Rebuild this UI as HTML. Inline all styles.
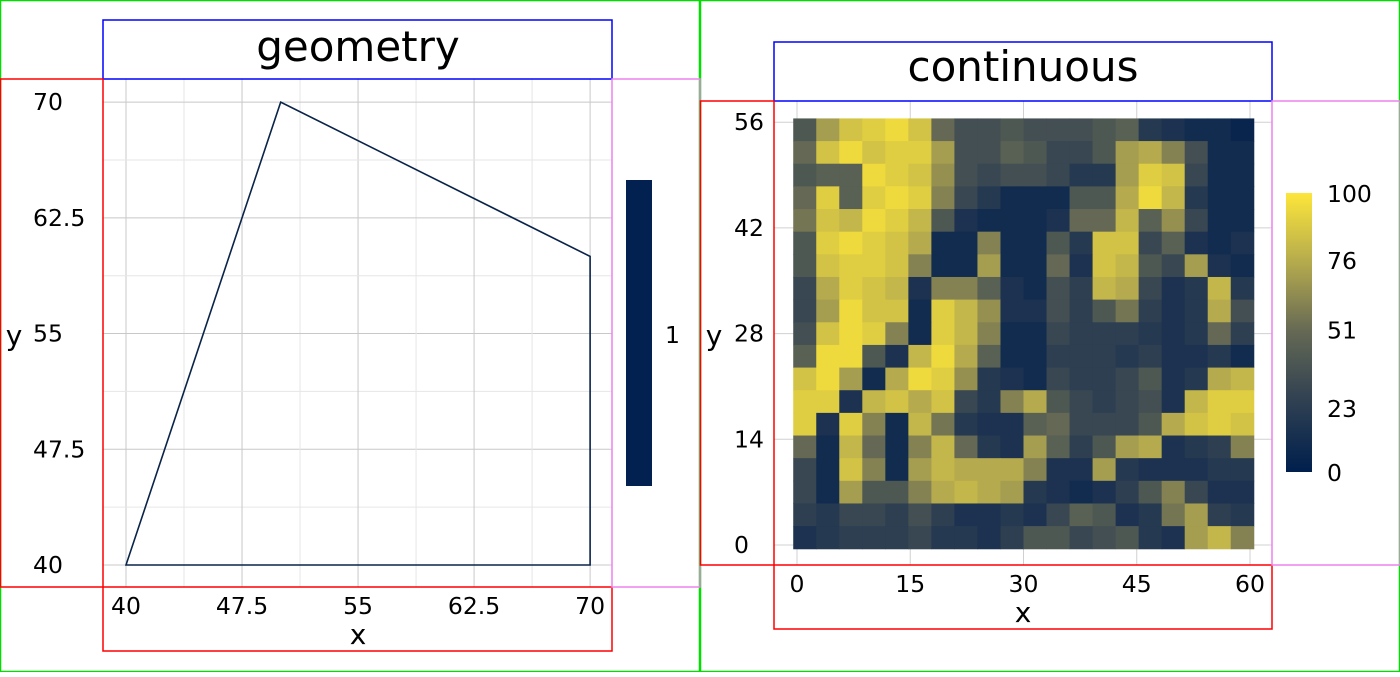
<!DOCTYPE html>
<html><head><meta charset="utf-8"><style>
body{margin:0;background:#fff;font-family:"Liberation Sans","DejaVu Sans",sans-serif}
svg text{font-family:"DejaVu Sans","Liberation Sans",sans-serif}
</style></head><body>
<svg id="s" width="1400" height="672" xmlns="http://www.w3.org/2000/svg">
<g id="left"></g>
<g id="right"></g>
<g id="frames"></g>
</svg>
<script>
// ---- geometry panel data
const polyX=[40,50,70,70];
const polyY=[40,70,60,40];
const geoXTicks=[40,47.5,55,62.5,70];
const geoXLabels=["40","47.5","55","62.5","70"];
const geoYTicks=[40,47.5,55,62.5,70];
const geoYLabels=["40","47.5","55","62.5","70"];
// ---- continuous panel data (coarse 20x19 grid, top row first, values 0-100)
const xTicks=[0,15,30,45,60];
const yTicks=[0,14,28,42,56];
const legendTicks=[0,23,51,76,100];
const heat=[
[40,70,85,90,95,85,50,35,35,40,35,35,35,40,45,20,15,10,10,5],
[50,85,95,85,90,90,70,35,35,45,40,30,30,40,70,75,60,35,10,10],
[40,45,45,95,90,85,65,35,30,35,35,30,20,20,70,90,85,30,10,10],
[50,90,45,90,95,90,60,30,20,10,10,10,40,40,75,95,80,20,10,10],
[55,85,80,95,90,80,40,15,10,10,10,15,50,50,80,45,65,30,10,10],
[40,90,95,90,85,75,10,10,60,10,10,40,20,85,85,30,45,15,10,15],
[40,85,90,90,85,60,10,10,70,10,10,50,15,85,80,40,30,70,15,10],
[30,75,90,85,80,15,60,60,45,15,10,35,25,80,75,30,15,20,80,20],
[30,70,95,85,85,10,90,80,65,15,15,35,25,40,55,25,15,20,75,35],
[35,85,95,90,60,10,90,80,60,10,10,30,25,25,25,20,15,20,50,25],
[45,95,95,40,15,80,95,75,45,10,10,25,25,25,20,25,15,15,20,10],
[85,95,70,10,75,95,90,65,20,15,10,30,25,25,30,40,15,20,75,80],
[90,90,15,80,85,75,85,30,20,60,75,40,30,25,30,35,15,80,90,90],
[90,15,90,60,10,80,55,20,15,15,45,50,30,30,30,40,75,85,90,85],
[50,10,80,50,10,60,80,50,20,15,70,45,25,40,70,75,15,20,25,60],
[30,10,85,60,10,70,80,75,75,75,60,15,15,70,20,15,15,15,20,20],
[30,10,70,40,40,60,75,80,75,70,20,15,10,15,25,40,60,30,15,15],
[25,20,30,30,25,35,25,15,15,20,15,30,45,40,15,20,55,70,25,20],
[15,20,25,25,25,30,20,20,15,25,40,40,30,35,40,20,15,70,80,60]
];
const NS='http://www.w3.org/2000/svg';
function mk(p,t,a,txt){const e=document.createElementNS(NS,t);for(const k in a)e.setAttribute(k,a[k]);if(txt!==undefined)e.textContent=txt;p.appendChild(e);return e;}
const stops=[[0,[0,31,77]],[0.25,[46,63,82]],[0.5,[100,104,84]],[0.75,[181,170,78]],[1,[253,230,58]]];
function col(v){const t=Math.max(0,Math.min(1,v/100));for(let i=1;i<stops.length;i++){if(t<=stops[i][0]){const a=stops[i-1],b=stops[i];const f=(t-a[0])/(b[0]-a[0]);const c=a[1].map((x,j)=>Math.round(x+(b[1][j]-x)*f));return `rgb(${c})`;}}return 'rgb(253,230,58)';}
// ---- left
const L=document.getElementById('left');
const gx=v=>126+(v-40)*15.47, gy=v=>565-(v-40)*15.43;
for(let v=40;v<=70;v+=3.75){const major=geoXTicks.includes(v);
 let e=mk(L,'line',{x1:gx(v),x2:gx(v),y1:79,y2:587,stroke:major?'#c8c8c8':'#e6e6e6','stroke-width':1});
 
 e=mk(L,'line',{y1:gy(v),y2:gy(v),x1:103,x2:612,stroke:major?'#c8c8c8':'#e6e6e6','stroke-width':1});
 }
let pts=polyX.map((x,i)=>gx(x)+','+gy(polyY[i])).join(' ');
let pg=mk(L,'polygon',{points:pts,fill:'none',stroke:'#0a2349','stroke-width':1.6});

geoXTicks.forEach((v,i)=>{const t=mk(L,'text',{x:gx(v),y:614,'text-anchor':'middle','font-size':23.5},geoXLabels[i]);
 });
geoYTicks.forEach((v,i)=>{const t=mk(L,'text',{x:33,y:gy(v)+8,'text-anchor':'start','font-size':23.5},geoYLabels[i]);
 });
let t;
t=mk(L,'text',{x:358,y:644,'text-anchor':'middle','font-size':28},'x');
t=mk(L,'text',{x:14,y:345,'text-anchor':'middle','font-size':28},'y');
t=mk(L,'text',{x:358,y:61,'text-anchor':'middle','font-size':42},'geometry');
t=mk(L,'rect',{x:626,y:180,width:26,height:306,fill:'#022150'});
t=mk(L,'text',{x:665,y:343,'font-size':23.5},'1');
// ---- right
const R=document.getElementById('right');
const cx=v=>797+v*7.55, cy=v=>545-v*7.55;
xTicks.forEach(v=>{const e=mk(R,'line',{x1:cx(v),x2:cx(v),y1:101,y2:565,stroke:'#d0d0d0'});});
yTicks.forEach(v=>{const e=mk(R,'line',{y1:cy(v),y2:cy(v),x1:774,x2:1272,stroke:'#d0d0d0'});});
const nr=heat.length,nc=heat[0].length, cw=61/nc, ch=57/nr;
heat.forEach((row,r)=>row.forEach((v,c)=>{
 const x0=-0.5+c*cw, y1=56.5-r*ch;
 const e=mk(R,'rect',{x:cx(x0),y:cy(y1),width:cw*7.55+0.5,height:ch*7.55+0.5,fill:col(v)});
 
 
}));
xTicks.forEach(v=>{const e=mk(R,'text',{x:cx(v),y:592,'text-anchor':'middle','font-size':23.5},String(v));});
yTicks.forEach(v=>{const e=mk(R,'text',{x:734,y:cy(v)+8,'text-anchor':'start','font-size':23.5},String(v));});
t=mk(R,'text',{x:1023,y:622,'text-anchor':'middle','font-size':28},'x');
t=mk(R,'text',{x:714,y:345,'text-anchor':'middle','font-size':28},'y');
t=mk(R,'text',{x:1023,y:81,'text-anchor':'middle','font-size':42},'continuous');
const defs=mk(R,'defs',{});const lg=mk(defs,'linearGradient',{id:'cg',x1:0,y1:1,x2:0,y2:0});
for(let i=0;i<=10;i++)mk(lg,'stop',{offset:i/10,'stop-color':col(i*10)});
t=mk(R,'rect',{x:1286,y:193,width:26,height:279,fill:'url(#cg)'});
const ly=v=>472-v/100*279;
legendTicks.forEach(v=>{const e=mk(R,'text',{x:1327,y:ly(v)+9,'font-size':23.5},String(v));});
// ---- frames
const F=document.getElementById('frames');
[[0.5,0.5,699,671,'#00e000'],[700.5,0.5,699,671,'#00e000'],
 [103,20,509,59,'blue'],[774,42,498,59,'blue'],
 [0.5,79,102.5,508,'red'],[103,587,509,64,'red'],[612,79,88,508,'violet'],
 [700.5,101,73.5,464,'red'],[774,565,498,64,'red'],[1272,101,128,464,'violet']
].forEach(f=>{const e=mk(F,'rect',{x:f[0],y:f[1],width:f[2],height:f[3],fill:'none',stroke:f[4],'stroke-width':1.5});
 });
</script>
</body></html>
